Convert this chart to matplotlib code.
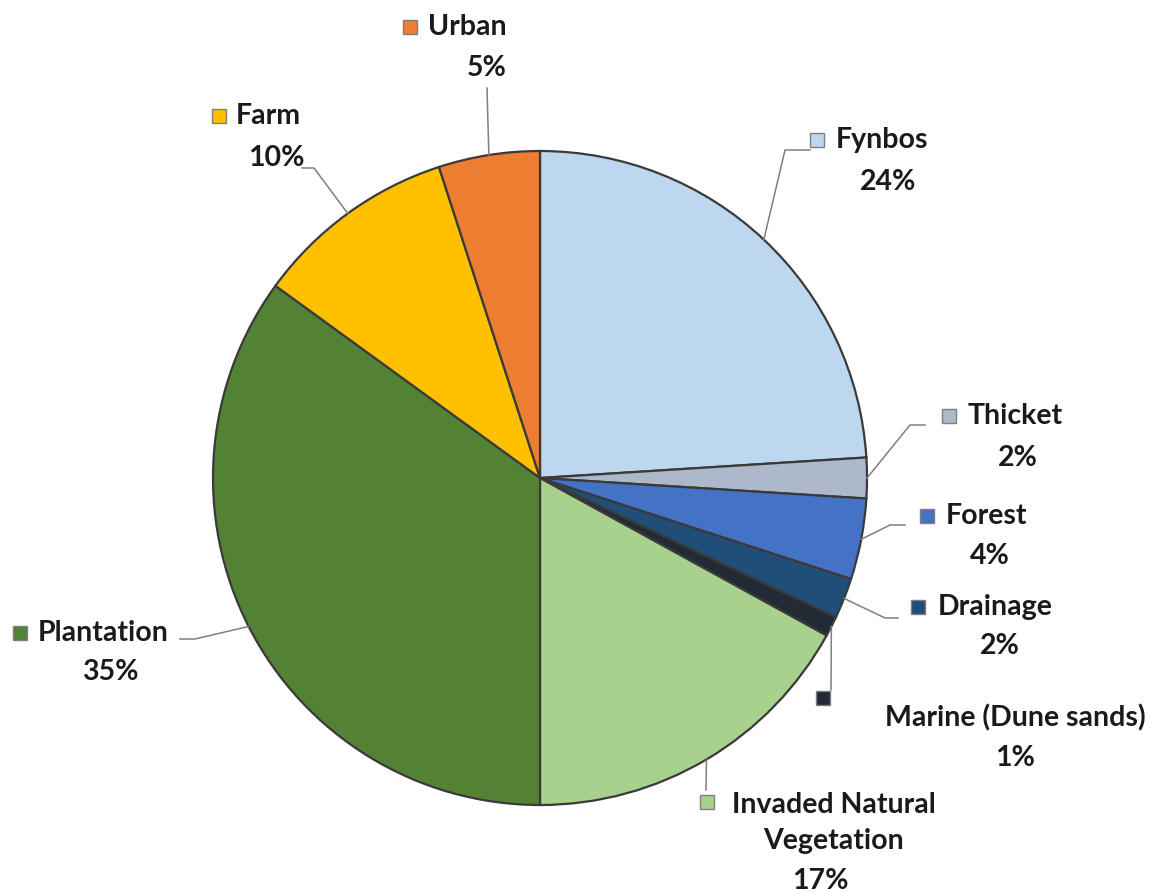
import numpy as np
import matplotlib.pyplot as plt

# land cover shares (%), clockwise from 12 o'clock
labels = ['Fynbos', 'Thicket', 'Forest', 'Drainage', 'Marine (Dune sands)',
          'Invaded Natural\nVegetation', 'Plantation', 'Farm', 'Urban']
shares = [24, 2, 4, 2, 1, 17, 35, 10, 5]
colors = ['#BDD7EE', '#ADB9CA', '#4472C4', '#1F4E79', '#222A35',
          '#A9D18E', '#548235', '#FFC000', '#ED7D31']

W, H = 1160, 892

# label layout in image pixels: square, name (x, y, ha), percent, leader elbow points
layout = [
    dict(sq=(817, 140), name=(836, 140, 'left'), pct=(888, 182), lead=[(785, 150), (810, 150)]),
    dict(sq=(949, 416), name=(968, 416, 'left'), pct=(1018, 458), lead=[(910, 425), (925, 425)]),
    dict(sq=(927, 516), name=(946, 516, 'left'), pct=(990, 556), lead=[(890, 525), (905, 525)]),
    dict(sq=(918, 607), name=(938, 607, 'left'), pct=(1000, 646), lead=[(885, 618), (898, 618)]),
    dict(sq=(823, 698), name=(1015, 718, 'center'), pct=(1015, 758), lead=[(831, 690)]),
    dict(sq=(707, 802), name=(834, 823, 'center'), pct=(820, 881), lead=[(706, 790)]),
    dict(sq=(20, 633), name=(38, 633, 'left'), pct=(110, 672), lead=[(195, 639), (180, 639)]),
    dict(sq=(219, 116), name=(236, 116, 'left'), pct=(276, 158), lead=[(314, 168), (302, 168)]),
    dict(sq=(410, 27), name=(428, 27, 'left'), pct=(487, 68), lead=[(487, 88)]),
]

plt.rcParams['font.family'] = ['Lato', 'DejaVu Sans']

fig = plt.figure(figsize=(W / 100, H / 100), dpi=100)
ax = fig.add_axes([0, 0, 1, 1])

cx, cy, r = 540, H - 478, 327
wedges, _ = ax.pie(shares, colors=colors, startangle=90, counterclock=False,
                   center=(cx, cy), radius=r,
                   wedgeprops=dict(edgecolor='#3a3a3a', linewidth=1.6))

ax.set_xlim(0, W)
ax.set_ylim(0, H)
ax.set_aspect('equal')
ax.axis('off')

fs = 20.5
for w, lab, val, col, lay in zip(wedges, labels, shares, colors, layout):
    ang = np.deg2rad((w.theta1 + w.theta2) / 2)
    ex, ey = cx + r * np.cos(ang), cy + r * np.sin(ang)
    xs = [ex] + [p[0] for p in lay['lead']]
    ys = [ey] + [H - p[1] for p in lay['lead']]
    ax.plot(xs, ys, color='#7f7f7f', lw=1.1, zorder=1)

    sx, sy = lay['sq']
    ax.plot(sx, H - sy, marker='s', ms=10.5, mfc=col, mec='#7f7f7f', mew=1.0)
    nx, ny, ha = lay['name']
    ax.text(nx, H - ny, lab, ha=ha, va='center', fontsize=fs, fontweight='bold',
            color='#1a1a1a', linespacing=1.5)
    px, py = lay['pct']
    ax.text(px, H - py, f'{val}%', ha='center', va='center', fontsize=fs,
            fontweight='bold', color='#1a1a1a')

fig.savefig('out.png', dpi=100)
